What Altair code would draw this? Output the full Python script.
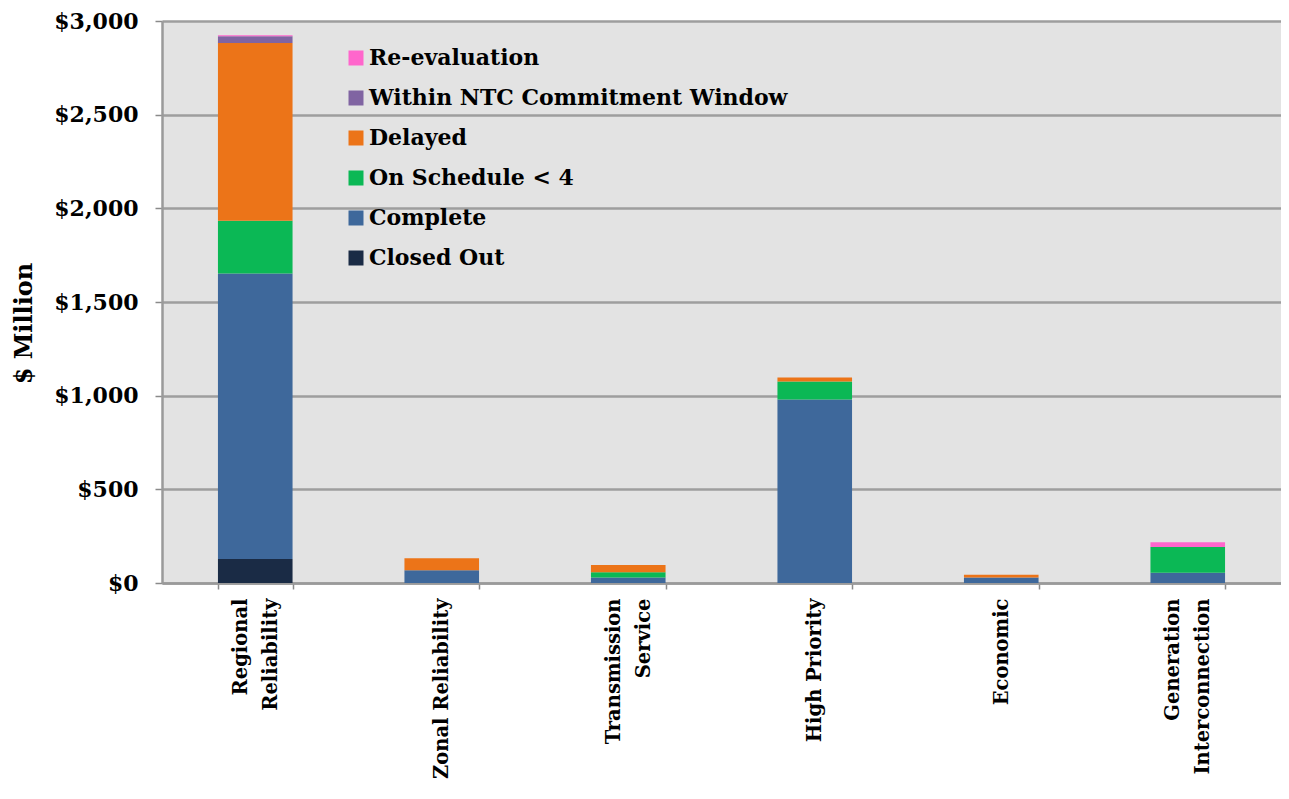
import altair as alt
import pandas as pd

categories = ["Regional Reliability", "Zonal Reliability", "Transmission Service",
              "High Priority", "Economic", "Generation Interconnection"]
label_lines = {
    "Regional Reliability": ["Regional", "Reliability"],
    "Zonal Reliability": ["Zonal Reliability"],
    "Transmission Service": ["Transmission", "Service"],
    "High Priority": ["High Priority"],
    "Economic": ["Economic"],
    "Generation Interconnection": ["Generation", "Interconnection"],
}
statuses = ["Re-evaluation", "Within NTC Commitment Window", "Delayed",
            "On Schedule < 4", "Complete", "Closed Out"]
colors = ["#ff66cc", "#8064a2", "#ec7418", "#0bb855", "#3e689b", "#1a2b45"]

closed_out = [128, 0, 0, 0, 0, 0]
complete = [1524, 68, 30, 980, 30, 55]
on_schedule = [282, 0, 28, 96, 0, 137]
delayed = [948, 64, 38, 21, 14, 0]
within_ntc = [37, 0, 0, 0, 0, 0]
re_evaluation = [5, 0, 0, 0, 0, 26]

series = {
    "Closed Out": closed_out,
    "Complete": complete,
    "On Schedule < 4": on_schedule,
    "Delayed": delayed,
    "Within NTC Commitment Window": within_ntc,
    "Re-evaluation": re_evaluation,
}
rows = []
for rank, (status, vals) in enumerate(series.items()):
    for cat, v in zip(categories, vals):
        rows.append({"category": cat, "status": status, "value": v, "rank": rank})
df = pd.DataFrame(rows)

label_expr = " : ".join(
    f"datum.value == '{k}' ? {v!r}" for k, v in label_lines.items()
) + " : datum.label"
two_line = [k for k, v in label_lines.items() if len(v) > 1]
two_line_test = "indexof([" + ",".join(f"'{k}'" for k in two_line) + "], datum.value) >= 0"

FONT = "DejaVu Serif"

chart = alt.Chart(df).mark_bar().encode(
    x=alt.X("category:N", sort=categories,
            scale=alt.Scale(paddingInner=0.6, paddingOuter=0.3),
            axis=alt.Axis(title=None, labelAngle=-90, labelExpr=label_expr,
                          labelFont=FONT, labelFontWeight="bold", labelFontSize=19.5,
                          labelColor="#000", labelLineHeight=30, labelPadding=9,
                          labelLimit=500,
                          labelOffset={"condition": {"test": two_line_test, "value": -15},
                                       "value": 0},
                          tickBand="extent", ticks=True, tickSize=6,
                          tickColor="#8a8a8a", tickWidth=1.5,
                          domainColor="#9a9a9a", domainWidth=2.5, grid=False)),
    y=alt.Y("value:Q", stack="zero",
            scale=alt.Scale(domain=[0, 3000], nice=False),
            axis=alt.Axis(title="$ Million", values=[0, 500, 1000, 1500, 2000, 2500, 3000],
                          format="$,.0f", labelFont=FONT, labelFontWeight="bold",
                          labelFontSize=22, labelColor="#000", labelPadding=17,
                          tickSize=7, tickColor="#8a8a8a", tickWidth=1.5,
                          domainColor="#9a9a9a", domainWidth=2.5,
                          grid=True, gridColor="#9e9e9e", gridWidth=2.5,
                          titleFont=FONT, titleFontWeight="bold", titleFontSize=24,
                          titleColor="#000", titlePadding=17, titleY=302)),
    color=alt.Color("status:N",
                    scale=alt.Scale(domain=statuses, range=colors),
                    legend=alt.Legend(title=None, orient="none", legendX=183, legendY=26,
                                      symbolType="square", symbolSize=225,
                                      symbolStrokeWidth=0, labelFont=FONT,
                                      labelFontWeight="bold", labelFontSize=22,
                                      labelColor="#000", rowPadding=18,
                                      labelOffset=2, labelLimit=600)),
    order=alt.Order("rank:Q", sort="ascending"),
).properties(
    width=1119,
    height=562,
    autosize=alt.AutoSizeParams(type="none"),
    padding={"left": 154, "top": 13, "right": 0, "bottom": 202},
).configure_view(
    fill="#e3e3e3", stroke=None
)

chart.save("out.html", embed_options={"renderer": "svg", "actions": False})
